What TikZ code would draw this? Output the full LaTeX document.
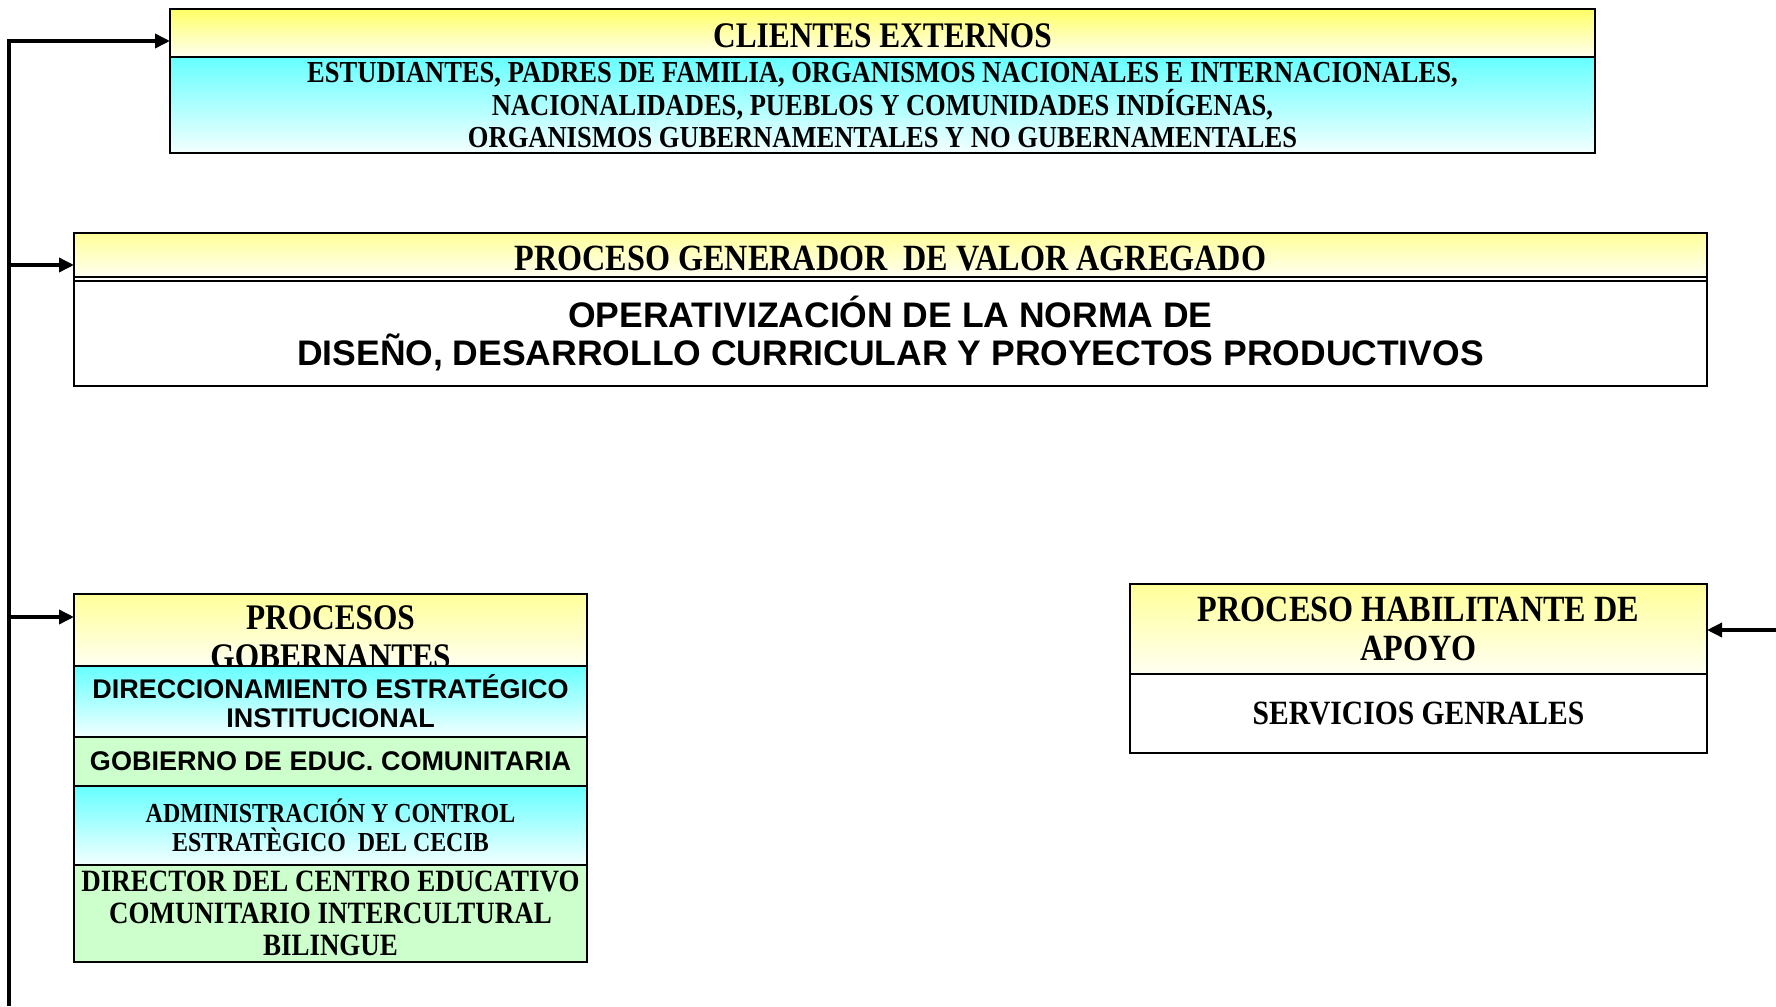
\documentclass[tikz,border=0pt]{standalone}
\usepackage{fontspec}
\setmainfont{Liberation Serif}[FakeStretch=0.87]
\newfontfamily\arialf{Liberation Sans}
\usetikzlibrary{arrows.meta}
\definecolor{yelA}{HTML}{FFFF66}
\definecolor{yelC}{HTML}{FFFF99}
\definecolor{yelB}{HTML}{FFFFF2}
\definecolor{cyA}{HTML}{66FFFF}
\definecolor{cyB}{HTML}{F4FFFF}
\definecolor{grn}{HTML}{CCFFCC}
\begin{document}
\begin{tikzpicture}[x=1pt,y=-1pt,
  box/.style={draw=black, line width=2pt, inner sep=0pt, outer sep=0pt, anchor=north west, align=center, text=black},
  hdrA/.style={box, top color=yelA, bottom color=yelB},
  hdrC/.style={box, top color=yelC, bottom color=yelB},
  cy/.style={box, top color=cyA, bottom color=cyB},
  gr/.style={box, fill=grn},
  wh/.style={box, fill=white},
  tnr/.style={font=\bfseries\fontsize{#1}{#1}\selectfont},
  ari/.style={font=\arialf\bfseries\fontsize{#1}{#1}\selectfont},
  arr/.style={line width=3.5pt, -{Triangle[length=15pt,width=14pt]}},
  trunk/.style={line width=3.5pt}
]
\useasboundingbox (0,0) rectangle (1776,1006);

% CLIENTES EXTERNOS
\node[hdrA, minimum width=1425pt, minimum height=48pt, tnr=36, text height=29pt, text depth=0pt] (ceh) at (170,9) {CLIENTES EXTERNOS};
\node[cy, minimum width=1425pt, minimum height=96pt, tnr=30.5] (cec) at (170,57)
  {ESTUDIANTES, PADRES DE FAMILIA, ORGANISMOS NACIONALES E INTERNACIONALES,\\[1pt]
   NACIONALIDADES, PUEBLOS Y COMUNIDADES INDÍGENAS,\\[1pt]
   ORGANISMOS GUBERNAMENTALES Y NO GUBERNAMENTALES};

% PROCESO GENERADOR
\node[hdrC, minimum width=1633pt, minimum height=44pt, tnr=37, text height=31pt, text depth=0pt] (pgh) at (74,233) {PROCESO GENERADOR \ DE VALOR AGREGADO};
\node[wh, minimum width=1633pt, minimum height=105pt, ari=35.5] (pgb) at (74,281)
  {OPERATIVIZACIÓN DE LA NORMA DE\\[3pt]
   DISEÑO, DESARROLLO CURRICULAR Y PROYECTOS PRODUCTIVOS};
\draw[line width=2pt] (pgh.south west) -- (pgb.north west) (pgh.south east) -- (pgb.north east);

% PROCESOS GOBERNANTES
\node[hdrC, minimum width=513pt, minimum height=72pt] (gbh) at (74,594) {};
\node[tnr=36, align=center, inner sep=0pt] (gbt) at (330.5,637) {PROCESOS\\[3pt]GOBERNANTES};
\node[cy, minimum width=513pt, minimum height=71pt, ari=27] (gb1) at (74,666)
  {DIRECCIONAMIENTO ESTRATÉGICO\\[2pt]INSTITUCIONAL};
\node[gr, minimum width=513pt, minimum height=49pt, ari=27] (gb2) at (74,737)
  {GOBIERNO DE EDUC. COMUNITARIA};
\node[cy, minimum width=513pt, minimum height=79pt, tnr=27.5] (gb3) at (74,786)
  {ADMINISTRACIÓN Y CONTROL\\[1pt]ESTRATÈGICO \ DEL CECIB};
\node[gr, minimum width=513pt, minimum height=97pt, tnr=31] (gb4) at (74,865)
  {DIRECTOR DEL CENTRO EDUCATIVO\\[1pt]COMUNITARIO INTERCULTURAL\\[1pt]BILINGUE};

% PROCESO HABILITANTE
\node[hdrC, minimum width=577pt, minimum height=90pt, tnr=37] (hah) at (1130,584)
  {PROCESO HABILITANTE DE\\[2pt]APOYO};
\node[wh, minimum width=577pt, minimum height=79pt, tnr=34] (hab) at (1130,674)
  {SERVICIOS GENRALES};

% connectors
\coordinate (t1) at (9,41);
\coordinate (t2) at (9,265);
\coordinate (t3) at (9,617);
\coordinate (tb) at (9,1006);
\coordinate (r1) at (1776,630);
\draw[trunk] (tb) -- ([yshift=1.75pt]t1);
\draw[arr] (t1) -- (t1 -| ceh.west);
\draw[arr] (t2) -- (t2 -| pgh.west);
\draw[arr] (t3) -- (t3 -| gbh.west);
\draw[arr] (r1) -- (r1 -| hah.east);
\end{tikzpicture}
\end{document}
